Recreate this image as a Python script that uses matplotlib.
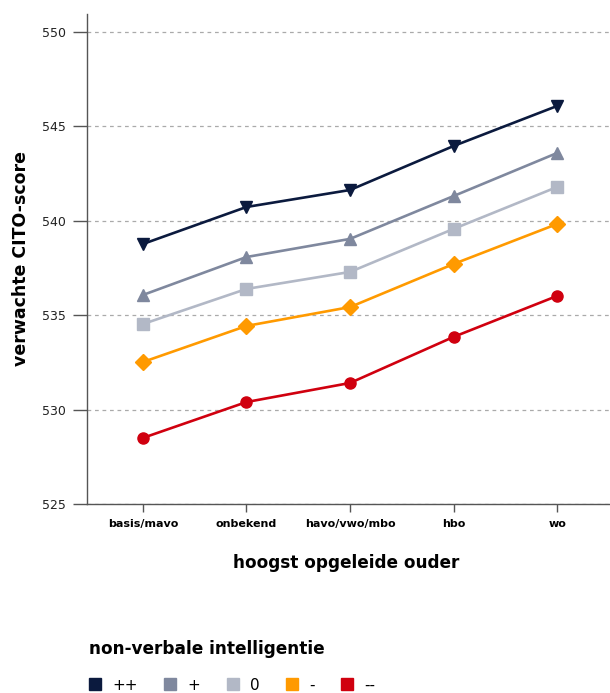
import matplotlib
matplotlib.use("Agg")
import matplotlib.pyplot as plt
from matplotlib.lines import Line2D

categories = ["basis/mavo", "onbekend", "havo/vwo/mbo", "hbo", "wo"]
series_names = ["++", "+", "0", "-", "--"]
s_pp = [538.77, 540.73, 541.63, 543.96, 546.08]
s_p = [536.07, 538.08, 539.04, 541.31, 543.59]
s_0 = [534.53, 536.39, 537.29, 539.57, 541.79]
s_m = [532.52, 534.43, 535.43, 537.71, 539.83]
s_mm = [528.50, 530.40, 531.41, 533.85, 536.02]
yticks = [525, 530, 535, 540, 545, 550]

colors = ["#0b1a3e", "#7f889e", "#b2b8c6", "#ff9a00", "#d0000f"]
markers = ["v", "^", "s", "D", "o"]
msizes = [9, 9, 8, 8, 8]

fig = plt.figure(figsize=(6.10, 6.93), dpi=100)
ax = fig.add_axes([87/610, 189/693, 523/610, 490/693])

x = list(range(len(categories)))
for vals, c, m, ms in zip([s_pp, s_p, s_0, s_m, s_mm], colors, markers, msizes):
    ax.plot(x, vals, color=c, marker=m, markersize=ms, linewidth=1.9, zorder=3)

ax.set_xlim(-0.54, 4.51)
ax.set_ylim(525, 550.95)
ax.set_yticks(yticks)
ax.set_xticks(x)
ax.set_xticklabels(categories, fontsize=8, fontweight="bold")
ax.tick_params(axis="y", length=10, width=1, color="#555555", labelsize=9, pad=5)
ax.tick_params(axis="x", length=6, width=1, color="#555555", pad=4.5)
for lab in ax.get_yticklabels():
    lab.set_color("#222222")

ax.yaxis.grid(True, linestyle=(0, (3, 3)), color="#aaaaaa", linewidth=0.9)
ax.set_axisbelow(True)
for s in ["top", "right"]:
    ax.spines[s].set_visible(False)
for s in ["left", "bottom"]:
    ax.spines[s].set_color("#555555")
    ax.spines[s].set_linewidth(1)

ax.set_ylabel("verwachte CITO-score", fontsize=12.5, fontweight="bold", labelpad=9)
fig.text(346/610, 1 - 563/693, "hoogst opgeleide ouder", fontsize=12.2,
         fontweight="bold", ha="center", va="center")

fig.text(89/610, 1 - 649/693, "non-verbale intelligentie", fontsize=12.2,
         fontweight="bold", ha="left", va="center")

handles = [Line2D([], [], marker="s", linestyle="", markersize=8.6, color=c)
           for c in colors]
fig.legend(handles, series_names, loc="center left",
           bbox_to_anchor=(89/610, 1 - 685/693), ncol=5, frameon=False,
           fontsize=11, handlelength=0.8, handletextpad=0.75,
           columnspacing=1.7, borderpad=0, borderaxespad=0)

fig.savefig("out.png", dpi=100)
